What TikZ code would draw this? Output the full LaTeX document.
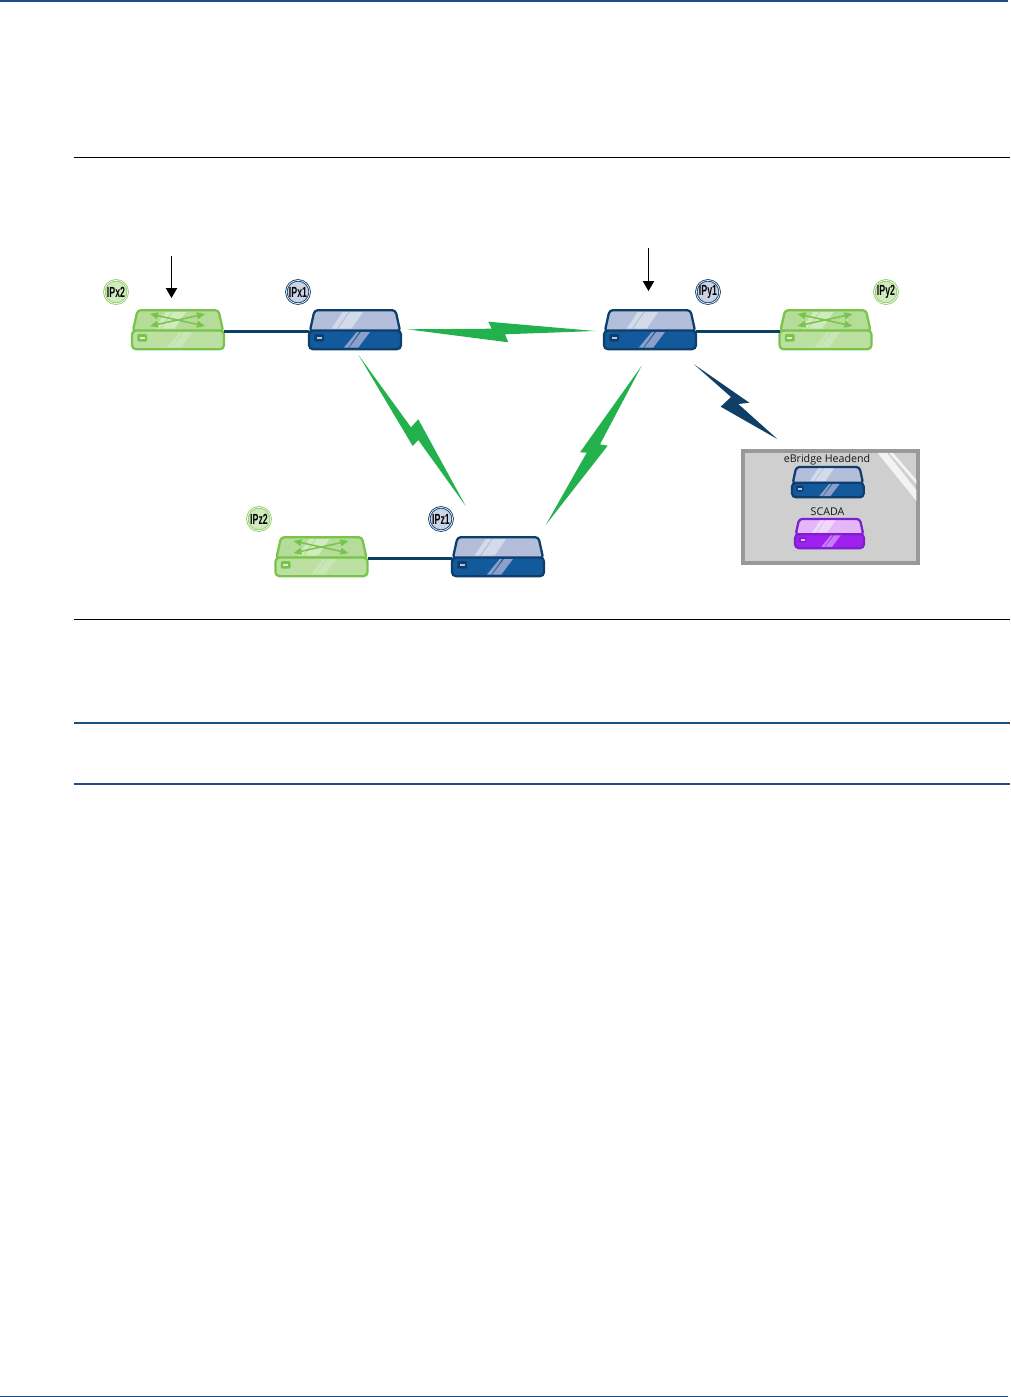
\documentclass[tikz,border=0pt]{standalone}
\usepackage{fontspec}
\setmainfont{Liberation Sans}
\newfontfamily\iplabel[FakeStretch=0.6]{Liberation Sans}
\newfontfamily\uilabel{Open Sans}
\usetikzlibrary{arrows.meta}
\definecolor{bluLine}{HTML}{0E3F6C}\definecolor{bluBody}{HTML}{135A9C}\definecolor{bluTop}{HTML}{B3BEDB}\definecolor{bluGlassT}{HTML}{D3DBEA}\definecolor{bluGlassB}{HTML}{8C9FCB}\definecolor{bluPort}{HTML}{B9C5DE}
\definecolor{grnLine}{HTML}{78C44A}\definecolor{grnBody}{HTML}{BCDFA2}\definecolor{grnTop}{HTML}{B6DC9A}\definecolor{grnGlassT}{HTML}{D2EAC0}\definecolor{grnGlassB}{HTML}{CBE6B6}\definecolor{grnPort}{HTML}{D9EEC9}
\definecolor{purLine}{HTML}{7D20D0}\definecolor{purBody}{HTML}{A020F0}\definecolor{purTop}{HTML}{E3B7F8}\definecolor{purGlassT}{HTML}{F0D8FB}\definecolor{purGlassB}{HTML}{C77CF5}\definecolor{purPort}{HTML}{E3B7F8}
\definecolor{ruleBlue}{HTML}{1F4E86}\definecolor{boltGreen}{HTML}{22B14C}\definecolor{boltNavy}{HTML}{0F3F66}\definecolor{linkNavy}{HTML}{0B3F66}
\tikzset{
  x=0.75pt,y=-0.75pt,
  blackrule/.style={draw=black,line width=0.75pt},
  bluerule/.style={draw=ruleBlue,line width=0.9pt},
  link/.style={draw=linkNavy,line width=2.9pt},
  callout/.style={draw=black,line width=0.75pt,-{Triangle[length=7.5pt,width=8.5pt]}},
  port/.style={inner sep=0pt,outer sep=0pt,minimum width=69pt,minimum height=3pt,transform shape},
  gbadge/.style={circle,draw=grnLine!85,fill=grnGlassT,line width=0.65pt,double=white,double distance=0.5pt,minimum size=17.5pt,inner sep=0pt,font=\iplabel\bfseries\fontsize{11pt}{11pt}\selectfont},
  bbadge/.style={circle,draw=bluLine,fill=bluPort!75,line width=0.65pt,double=white,double distance=0.5pt,minimum size=17.5pt,inner sep=0pt,font=\iplabel\bfseries\fontsize{11pt}{11pt}\selectfont},
  caption/.style={inner sep=0pt,text=black!92,font=\uilabel\fontsize{8pt}{8pt}\selectfont},
  xarrow/.style={draw=grnLine,line width=1.1pt,{Triangle[length=6pt,width=5pt]}-{Triangle[length=6pt,width=5pt]}},
}
% #1 name, #2 x, #3 y, #4 scale, #5 colour prefix
\newcommand\device[5]{%
\begin{scope}[shift={(#2,#3)},scale=#4]
  \filldraw[fill=#5Top,draw=#5Line,line width=1.7pt,line join=round,rounded corners=2.5pt] (0.8,22.5)--(5.5,1.2)--(86.5,1.2)--(91.2,22.5)--cycle;
  \fill[#5GlassT] (33.7,3)--(39.3,3)--(27.7,19.5)--(22.7,19.5)--cycle (41,3)--(54,3)--(42.7,19.5)--(29.3,19.5)--cycle;
  \filldraw[fill=#5Body,draw=#5Line,line width=1.7pt,rounded corners=3pt] (0,21.5)rectangle(92,40.2);
  \fill[#5GlassB] (47.7,23)--(50.3,23)--(39.3,38.5)--(35,38.5)--cycle (52,23)--(61,23)--(49.3,38.5)--(40.3,38.5)--cycle;
  \fill[#5Line,rounded corners=1pt] (5.3,25)rectangle(15,32.7);
  \fill[#5Port] (7.7,27.6)rectangle(12.7,30.2);
  \node[port] (#1) at (46,22.5) {};
\end{scope}}
\newcommand\crossarrows[2]{%
\begin{scope}[shift={(#1,#2)}]
  \draw[xarrow] (18,5)--(73,17);
  \draw[xarrow] (73,5)--(18,17);
\end{scope}}
\begin{document}
\begin{tikzpicture}
\useasboundingbox (0,0) rectangle (1011,1397);
\fill[white] (0,0) rectangle (1011,1397);
% page rules
\fill[ruleBlue] (0,0) rectangle (1008,2);
\fill[ruleBlue] (0,1396) rectangle (1008,1397);
\draw[blackrule] (74,157.5)--(1010,157.5);
\draw[blackrule] (74,619.5)--(1010,619.5);
\draw[bluerule] (74,723)--(1010,723);
\draw[bluerule] (74,784)--(1010,784);
% devices
\device{x2}{132}{309}{1}{grn}\crossarrows{132}{309}
\device{x1}{309}{309}{1}{blu}
\device{y1}{604}{309}{1}{blu}
\device{y2}{779.5}{309}{1}{grn}\crossarrows{779.5}{309}
\device{z2}{275.5}{536}{1}{grn}\crossarrows{275.5}{536}
\device{z1}{452}{536}{1}{blu}
% wired links
\draw[link] (x2.east)--(x1.west);
\draw[link] (y1.east)--(y2.west);
\draw[link] (z2.east)--(z1.west);
% wireless bolts
\fill[boltGreen] (407.3,329.3)--(491.7,328.7)--(488.3,321.7)--(595,331)--(505,334.3)--(508.3,342.3)--cycle;
\fill[boltGreen] (358.5,355)--(411,427.3)--(418.3,419.3)--(465.7,506)--(418.3,440)--(412.7,446)--cycle;
\fill[boltGreen] (641.7,365.7)--(600,444.3)--(607.7,445.7)--(545.7,525)--(586.7,452.7)--(580,452.3)--cycle;
\fill[boltNavy] (694,364.3)--(749.3,402.7)--(738.3,404)--(777.3,439)--(720.7,406.7)--(731,397)--cycle;
% headend box
\filldraw[fill=black!19,draw=black!40,line width=2.7pt] (742.8,451) rectangle (918.2,563);
\fill[white!75!black!19] (877.5,452.8)--(887,452.8)--(916.4,490)--(916.4,501)--cycle;
\fill[white!75!black!19] (889,452.8)--(893,452.8)--(916.4,480)--(916.4,484)--cycle;
\device{head}{792}{466}{0.78}{blu}
\device{scada}{795}{518}{0.75}{pur}
\node[caption] (headtxt) at (827,459.5) {eBridge Headend};
\node[caption] (scadatxt) at (827.5,511.5) {SCADA};
% badges
\node[gbadge] (ipx2) at (116,292) {IPx2};
\node[bbadge] (ipx1) at (298,292) {IPx1};
\node[bbadge] (ipy1) at (708,292) {IPy1};
\node[gbadge] (ipy2) at (886,292) {IPy2};
\node[gbadge] (ipz2) at (259,519) {IPz2};
\node[bbadge] (ipz1) at (441,519) {IPz1};
% callouts
\coordinate (a1s) at (171.5,256);
\coordinate (a1e) at (171.5,298);
\coordinate (a2s) at (648.5,248);
\coordinate (a2e) at (648.5,291);
\draw[callout] (a1s)--(a1e);
\draw[callout] (a2s)--(a2e);
\end{tikzpicture}
\end{document}
